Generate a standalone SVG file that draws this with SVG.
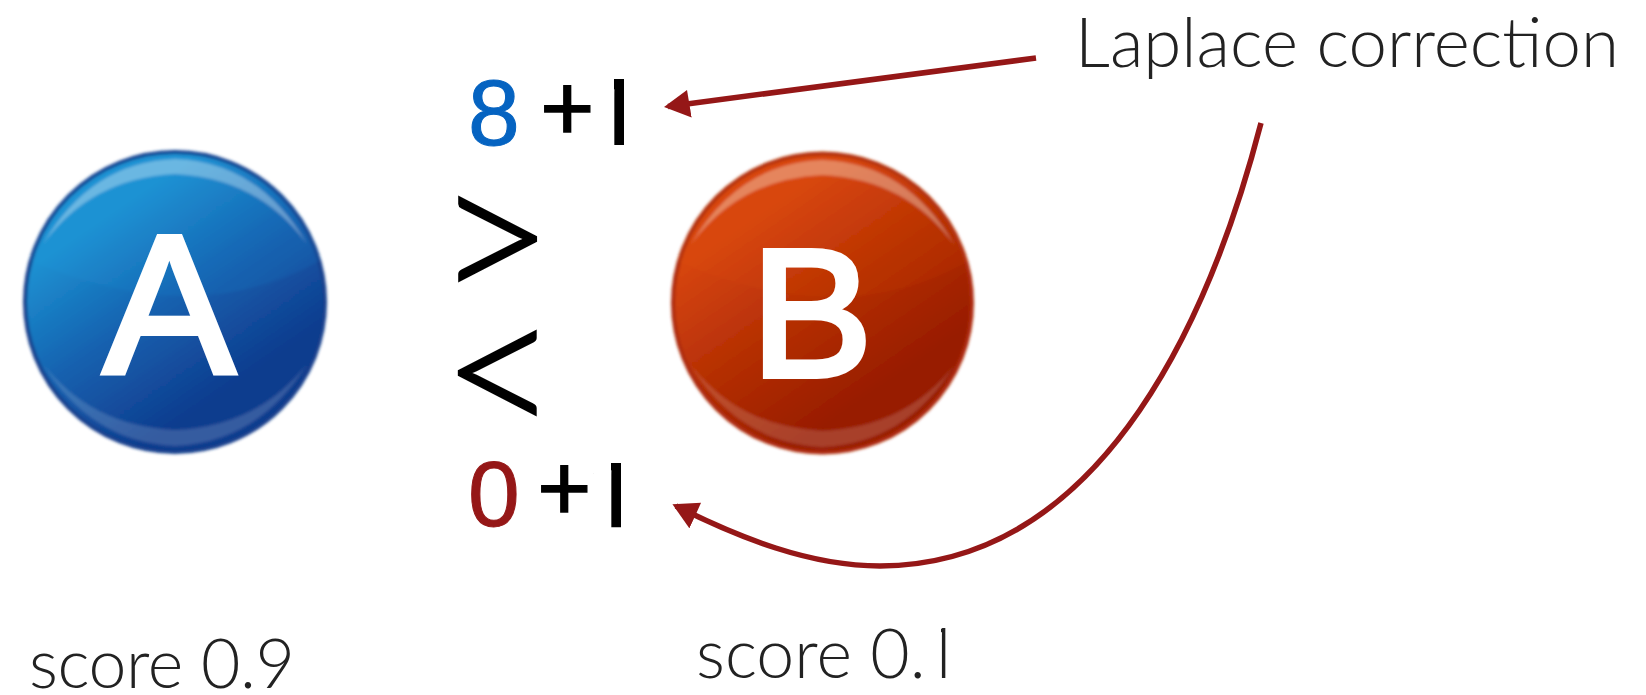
<svg xmlns="http://www.w3.org/2000/svg" width="1646" height="695" viewBox="0 0 1646 695">
<style>
.light{font-family:"Lato","Liberation Sans",sans-serif;font-weight:300;font-size:68px;fill:#222}
.num{font-family:"Liberation Sans",sans-serif;font-size:93px;fill:#000;stroke-width:1}
.plus{font-family:"Lato","Liberation Sans",sans-serif;font-size:94px;stroke:#000;stroke-width:1.4}
.bar{font-family:"Open Sans","Liberation Sans",sans-serif;font-size:94px;font-weight:500;stroke:#000;stroke-width:2.5}
.thin{font-family:"Open Sans","Liberation Sans",sans-serif;font-size:70px}
.cap{font-family:"Liberation Sans",sans-serif;fill:#fff;stroke:#fff;stroke-width:6}
.cmp{font-family:"Lato","Liberation Sans",sans-serif;font-weight:300;font-size:205px;fill:#000;stroke:#000;stroke-width:2}
.wire{fill:none;stroke:#951717;stroke-width:5.5}
.gloss{opacity:.1}
.rimt{fill:#fff;opacity:.34}
.rimb{fill:#fff;opacity:.16}
</style>
<defs>
<linearGradient id="ga" x1=".22" y1=".12" x2=".72" y2=".85"><stop offset=".12" stop-color="#1c90d1"/><stop offset=".52" stop-color="#1560ae"/><stop offset=".92" stop-color="#0f3c8e"/></linearGradient>
<linearGradient id="gb" x1=".22" y1=".12" x2=".72" y2=".85"><stop offset=".12" stop-color="#d6450c"/><stop offset=".52" stop-color="#b52f05"/><stop offset=".92" stop-color="#981c02"/></linearGradient>
<filter id="soft" x="-5%" y="-5%" width="110%" height="110%"><feGaussianBlur stdDeviation="1.4"/></filter>
<g id="shine">
<path class="gloss" d="M-146,-42Q20,30 146,-42A152,152 0 0 0 -146,-42Z"/>
<path class="rimt" d="M-132,-58Q-84,-140 0,-143Q84,-140 132,-58Q84,-124 0,-128Q-84,-124 -132,-58Z"/>
<path class="rimb" d="M-132,62Q-84,140 0,144Q84,140 132,62Q84,124 0,128Q-84,124 -132,62Z"/>
</g>
<marker id="head" markerUnits="userSpaceOnUse" markerWidth="34" markerHeight="34" refX="22" refY="14" orient="auto"><path d="M26,14L0,0L1,28Z" fill="#951717"/></marker>
<clipPath id="c8"><rect x="440" y="60" width="156" height="100"/><rect x="614" y="79" width="10" height="66"/></clipPath>
<clipPath id="c0"><rect x="440" y="445" width="154" height="100"/><rect x="611" y="463" width="10" height="66"/></clipPath>
<clipPath id="cs"><rect x="690" y="610" width="235" height="85"/><rect x="941" y="627" width="6" height="51"/></clipPath>
</defs>
<g id="node-a">
<g filter="url(#soft)"><circle cx="175" cy="302" r="150" fill="url(#ga)" stroke="#153f8c" stroke-width="4"/><use href="#shine" x="175" y="302" fill="#27a6e8"/></g>
<text class="cap" x="169" y="373" font-size="196" text-anchor="middle">A</text>
</g>
<g id="node-b">
<g filter="url(#soft)"><circle cx="822.5" cy="303" r="149.500" fill="url(#gb)" stroke="#ad2c10" stroke-width="4"/><use href="#shine" x="822.5" y="303" fill="#f05a00"/></g>
<text class="cap" x="751" y="376" font-size="182">B</text>
</g>
<g id="count-a"><text class="num" clip-path="url(#c8)" y="145"><tspan x="468" fill="#0563c1" stroke="#0563c1">8</tspan><tspan class="plus" x="540" dy="-5">+</tspan><tspan class="bar" x="590" dy="5">1</tspan></text></g>
<g id="count-b"><text class="num" clip-path="url(#c0)" y="526"><tspan x="468" fill="#951717" stroke="#951717">0</tspan><tspan class="plus" x="537" dy="-6">+</tspan><tspan class="bar" x="587" dy="6">1</tspan></text></g>
<g id="compare">
<text class="cmp" x="435" y="308">&gt;</text>
<text class="cmp" x="441" y="442">&lt;</text>
</g>
<g id="note"><text class="light" x="1075" y="67" style="font-size:69px">Laplace correction</text></g>
<g id="score-a"><text class="light" x="29" y="688" letter-spacing="-.4">score 0.9</text></g>
<g id="score-b"><text class="light" clip-path="url(#cs)" x="696" y="678">score 0.<tspan class="thin" x="922">1</tspan></text></g>
<g id="connectors">
<path class="wire" d="M1036,58L668,106.500" marker-end="url(#head)"/>
<path class="wire" d="M1261,123C1215,300 1110,565 880,566C810,566 740,538 676,506" marker-end="url(#head)"/>
</g>
</svg>
